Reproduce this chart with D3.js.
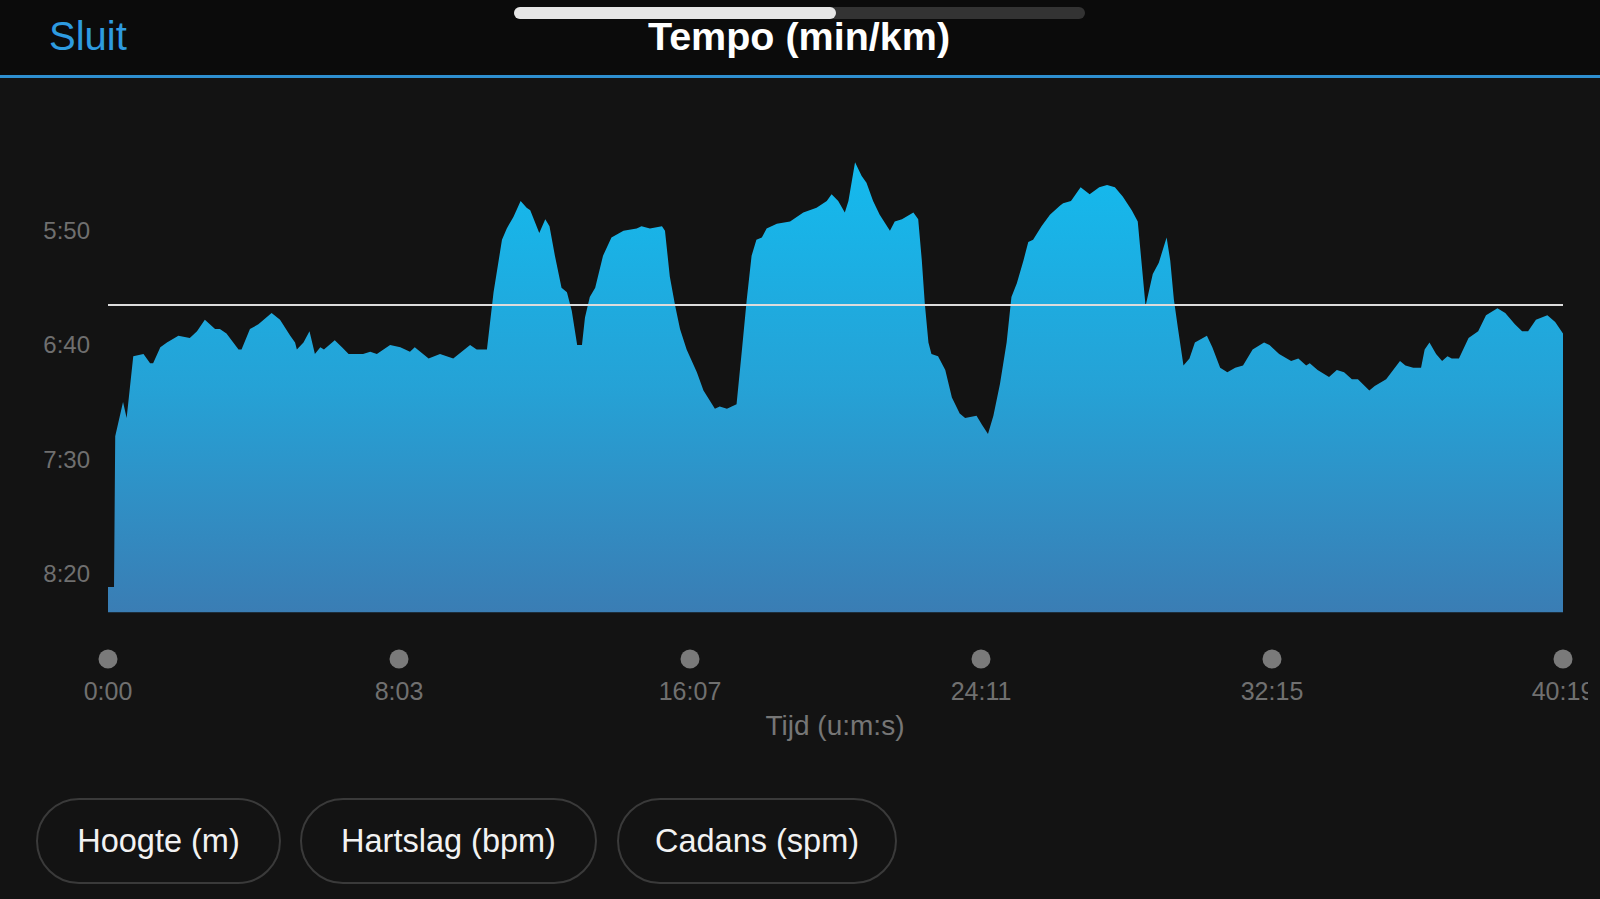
<!DOCTYPE html>
<html>
<head>
<meta charset="utf-8">
<script src="https://cdn.jsdelivr.net/npm/d3@7"></script>
<style>
  html, body { margin: 0; padding: 0; background: #131313; }
  svg { display: block; }
  text { font-family: "Liberation Sans", Arial, Helvetica, sans-serif; }
</style>
</head>
<body>
<svg id="chart" width="1600" height="899"></svg>
<script>
// ---- data ----
const timeSec = [0,10,12,25,31,42,59,70,75,87,98,117,136,148,161,178,186,197,217,222,236,250,272,286,303,311,314,325,335,344,353,359,377,389,400,424,436,447,469,486,502,510,533,552,574,588,602,613,630,641,655,663,674,686,696,702,717,727,734,743,754,763,771,780,788,793,801,810,823,837,857,879,887,901,921,926,934,943,951,962,979,990,1009,1017,1029,1045,1054,1062,1070,1078,1087,1095,1112,1134,1145,1156,1178,1195,1203,1214,1225,1231,1242,1253,1261,1272,1283,1300,1308,1320,1339,1347,1353,1358,1364,1369,1380,1392,1403,1416,1425,1444,1453,1463,1472,1483,1494,1502,1511,1522,1530,1538,1552,1566,1583,1588,1601,1617,1632,1648,1661,1674,1687,1702,1712,1725,1737,1747,1760,1766,1772,1779,1788,1798,1807,1827,1836,1849,1861,1874,1887,1903,1922,1931,1947,1967,1979,1992,1998,2011,2030,2043,2055,2068,2078,2097,2106,2125,2148,2157,2170,2183,2189,2197,2208,2218,2227,2234,2246,2262,2278,2291,2310,2323,2339,2351,2361,2374,2393,2406,2419];
const paceSec = [506,506,440,425,432,405,404,408,408,401,399,396,397,394,389,393,393,395,402,402,393,391,386,389,396,399,402,399,394,404,401,402,398,401,404,404,403,404,400,401,403,401,406,404,406,403,400,402,402,377,354,349,344,337,340,341,351,345,348,361,375,377,385,400,400,388,379,375,361,353,350,349,348,349,348,350,370,383,393,402,412,420,428,427,428,426,402,380,361,354,353,349,347,346,344,342,340,337,334,337,342,337,320,326,329,337,343,350,346,345,342,345,363,382,399,404,405,411,423,430,432,431,435,439,431,417,399,379,373,363,355,354,348,343,339,338,337,331,334,331,330,331,335,341,346,383,369,364,353,363,380,393,409,406,399,396,401,410,412,410,409,402,399,400,404,407,406,409,408,411,414,411,412,415,415,420,418,415,407,409,410,410,402,399,404,407,405,406,406,397,394,387,384,386,391,394,394,389,387,390,395];
const avgPaceSec = 382.5;
const totalSec = 2419;
const baselinePaceSec = 517;
const yTickValues = [350, 400, 450, 500];
const yTickLabels = ["5:50", "6:40", "7:30", "8:20"];
const xTickValues = [0, 483.8, 967.6, 1451.4, 1935.2, 2419];
const xTickLabels = ["0:00", "8:03", "16:07", "24:11", "32:15", "40:19"];
const titleText = "Tempo (min/km)";
const closeText = "Sluit";
const xAxisTitle = "Tijd (u:m:s)";
const buttonLabels = ["Hoogte (m)", "Hartslag (bpm)", "Cadans (spm)"];

const data = timeSec.map((t, i) => ({ t, v: paceSec[i] }));

// ---- layout ----
const svg = d3.select("#chart");
const W = 1600, H = 899;

const x = d3.scaleLinear().domain([0, totalSec]).range([108, 1563]);
const y = d3.scaleLinear().domain([350, 500]).range([230.7, 573.3]);

// background
svg.append("rect").attr("width", W).attr("height", H).attr("fill", "#131313");
svg.append("rect").attr("width", W).attr("height", 75).attr("fill", "#0b0b0b");
svg.append("rect").attr("x", 0).attr("y", 75).attr("width", W).attr("height", 3).attr("fill", "#2e8fd0");

// progress bar
svg.append("rect").attr("x", 514).attr("y", 7).attr("width", 571).attr("height", 12).attr("rx", 6).attr("fill", "#333333");
svg.append("rect").attr("x", 514).attr("y", 7).attr("width", 322).attr("height", 12).attr("rx", 6).attr("fill", "#e6e6e6");

// header texts
svg.append("text").attr("x", 49).attr("y", 50).attr("font-size", 40).attr("fill", "#2e9be0").text(closeText);
svg.append("text").attr("x", 799).attr("y", 50).attr("text-anchor", "middle").attr("font-size", 39.5)
  .attr("font-weight", "bold").attr("fill", "#ffffff").text(titleText);

// gradient
const defs = svg.append("defs");
const grad = defs.append("linearGradient").attr("id", "areaGrad")
  .attr("gradientUnits", "userSpaceOnUse").attr("x1", 0).attr("x2", 0)
  .attr("y1", y(320)).attr("y2", y(baselinePaceSec));
grad.append("stop").attr("offset", "0%").attr("stop-color", "#14baee");
grad.append("stop").attr("offset", "50%").attr("stop-color", "#25a2d6");
grad.append("stop").attr("offset", "100%").attr("stop-color", "#3a7db4");

defs.append("clipPath").attr("id", "labelClip").append("rect")
  .attr("x", 0).attr("y", 0).attr("width", 1588).attr("height", H);

// area
const area = d3.area()
  .x(d => x(d.t))
  .y0(y(baselinePaceSec))
  .y1(d => y(d.v))
  .curve(d3.curveLinear);
svg.append("path").datum(data).attr("d", area).attr("fill", "url(#areaGrad)");

// average line
svg.append("line").attr("x1", x(0)).attr("x2", x(totalSec))
  .attr("y1", y(avgPaceSec)).attr("y2", y(avgPaceSec))
  .attr("stroke", "#dcdcdc").attr("stroke-width", 2);

// y axis labels
svg.append("g").selectAll("text").data(yTickValues).join("text")
  .attr("x", 90).attr("y", d => y(d) + 8.5)
  .attr("text-anchor", "end").attr("font-size", 24).attr("fill", "#6f6f6f")
  .text((d, i) => yTickLabels[i]);

// x axis dots and labels
const xg = svg.append("g").attr("clip-path", "url(#labelClip)");
xg.selectAll("circle").data(xTickValues).join("circle")
  .attr("cx", d => x(d)).attr("cy", 659).attr("r", 9.5).attr("fill", "#7a7a7a");
xg.selectAll("text").data(xTickValues).join("text")
  .attr("x", d => x(d)).attr("y", 700).attr("text-anchor", "middle")
  .attr("font-size", 25).attr("fill", "#707070")
  .text((d, i) => xTickLabels[i]);

svg.append("text").attr("x", 835).attr("y", 735).attr("text-anchor", "middle")
  .attr("font-size", 28).attr("fill", "#767676").text(xAxisTitle);

// buttons
const btnX = [37, 301, 618];
const btnW = [243, 295, 278];
const bg = svg.append("g");
buttonLabels.forEach((lab, i) => {
  bg.append("rect").attr("x", btnX[i]).attr("y", 799).attr("width", btnW[i]).attr("height", 84)
    .attr("rx", 42).attr("fill", "none").attr("stroke", "#3a3a3a").attr("stroke-width", 2);
  bg.append("text").attr("x", btnX[i] + btnW[i] / 2).attr("y", 852).attr("text-anchor", "middle")
    .attr("font-size", 32.5).attr("fill", "#f2f2f2").text(lab);
});
</script>
</body>
</html>
